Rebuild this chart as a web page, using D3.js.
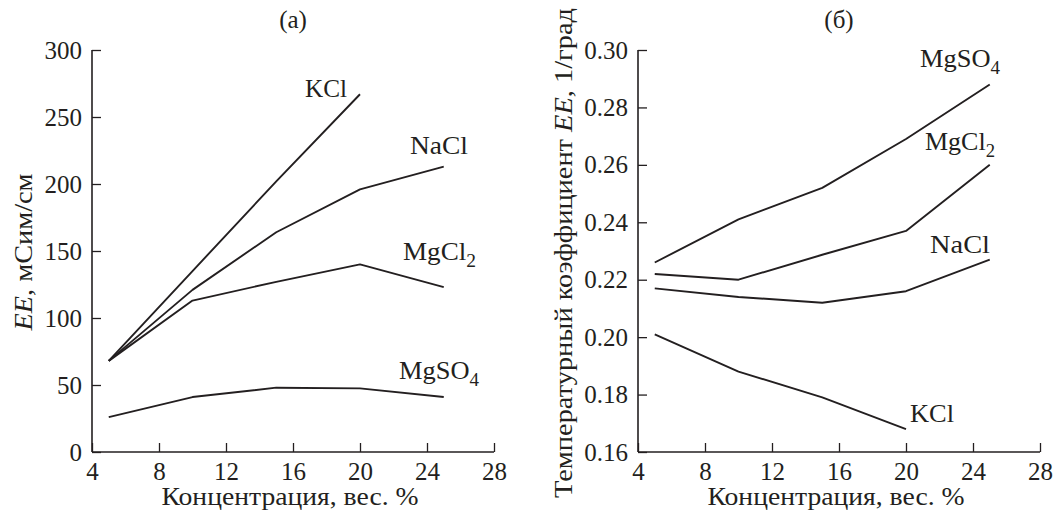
<!DOCTYPE html>
<html>
<head>
<meta charset="utf-8">
<script src="https://cdn.jsdelivr.net/npm/d3@7"></script>
<style>
  body { margin: 0; background: #fff; }
  svg text { font-family: "Liberation Serif", "Times New Roman", serif; fill: #231f20; }
</style>
</head>
<body>
<div id="chart"></div>
<script>
(function() {

  // concentration, wt. %
  let concentration = [5, 10, 15, 20, 25];
  let xTicks = [4, 8, 12, 16, 20, 24, 28];

  // panel (a): electrical conductivity, mS/cm
  let condKCl = [68, 135, 202, 267];
  let condNaCl = [68, 121, 164, 196, 213];
  let condMgCl2 = [68, 113, 127, 140, 123];
  let condMgSO4 = [26, 41, 48, 47.5, 41];
  let condTicks = [0, 50, 100, 150, 200, 250, 300];

  // panel (б): temperature coefficient, 1/deg
  let coefMgSO4 = [0.226, 0.241, 0.252, 0.269, 0.288];
  let coefMgCl2 = [0.222, 0.220, 0.2287, 0.237, 0.260];
  let coefNaCl = [0.217, 0.214, 0.212, 0.216, 0.227];
  let coefKCl = [0.201, 0.188, 0.179, 0.168];
  let coefTicks = [0.16, 0.18, 0.20, 0.22, 0.24, 0.26, 0.28, 0.30];

  let W = 1056, H = 514;
  let serif = '"Liberation Serif", "Times New Roman", serif';
  let ink = "#231f20";
  let svg = d3.select("#chart").append("svg")
      .attr("width", W)
      .attr("height", H);

  function drawPanel (opts) {
    let g = svg.append("g")
        .attr("transform", "translate(" + opts.left + "," + opts.top + ")");

    let x = d3.scaleLinear().domain([4, 28]).range([0, opts.width]);
    let y = d3.scaleLinear().domain(opts.yDomain).range([opts.height, 0]);

    // axes, ticks pointing inward
    let xAxis = g.append("g")
        .attr("transform", "translate(0," + opts.height + ")")
        .call(d3.axisBottom(x).tickValues(xTicks).tickSize(-9));
    let yAxis = g.append("g")
        .call(d3.axisLeft(y).tickValues(opts.yTicks).tickSize(-9)
          .tickFormat(opts.yFormat));

    [xAxis, yAxis].forEach(function(a) {
      a.attr("font-family", null).attr("font-size", null);
      a.select(".domain").attr("stroke", ink).attr("stroke-width", 1.6);
      a.selectAll(".tick line").attr("stroke", ink).attr("stroke-width", 1.3);
      a.selectAll(".tick text")
        .style("font-family", serif)
        .style("font-size", "25px")
        .attr("fill", ink);
    });
    xAxis.selectAll(".tick text").attr("dy", null).attr("y", 28);
    yAxis.selectAll(".tick text").attr("x", -10);
    yAxis.select(".domain").attr("d", "M0," + opts.height + "V0");
    xAxis.select(".domain").attr("d", "M0,0H" + opts.width);

    let line = d3.line()
        .x(function(d) { return x(d.c); })
        .y(function(d) { return y(d.v); });

    opts.series.forEach(function(s) {
      let pts = s.values.map(function(v, i) { return { c: concentration[i], v: v }; });
      g.append("path")
        .datum(pts)
        .attr("d", line)
        .attr("fill", "none")
        .attr("stroke", ink)
        .attr("stroke-width", 1.9)
        .attr("stroke-linejoin", "round");

      let t = g.append("text")
        .attr("x", s.lx)
        .attr("y", s.ly)
        .attr("text-anchor", "end")
        .attr("textLength", s.len)
        .attr("lengthAdjust", "spacingAndGlyphs")
        .style("font-size", "25px");
      t.append("tspan").text(s.name);
      if (s.sub) {
        t.append("tspan").attr("dy", 7).style("font-size", "18px").text(s.sub);
      }
    });

    // panel letter
    g.append("text")
      .attr("x", opts.letterX)
      .attr("y", -22)
      .attr("text-anchor", "middle")
      .style("font-size", "25px")
      .text(opts.letter);

    // x title
    g.append("text")
      .attr("x", opts.width / 2 - 3)
      .attr("y", opts.height + 53)
      .attr("text-anchor", "middle")
      .attr("textLength", 257)
      .attr("lengthAdjust", "spacingAndGlyphs")
      .style("font-size", "25px")
      .text("Концентрация, вес. %");

    // y title
    let yt = g.append("text")
      .attr("transform", "translate(" + opts.yTitleX + "," + opts.yTitleY + ") rotate(-90)")
      .attr("text-anchor", "middle")
      .attr("textLength", opts.yTitleLen)
      .attr("lengthAdjust", "spacingAndGlyphs")
      .style("font-size", "25px");
    opts.yTitle.forEach(function(p) {
      let ts = yt.append("tspan").text(p.t);
      if (p.i) ts.style("font-style", "italic");
    });
  }

  drawPanel({
    left: 92, top: 50, width: 402, height: 402,
    yDomain: [0, 300], yTicks: condTicks,
    yFormat: d3.format("d"),
    letter: "(a)", letterX: 201,
    yTitleX: -60, yTitleY: 202, yTitleLen: 157,
    yTitle: [{ t: "EE", i: true }, { t: ", мСим/см" }],
    series: [
      { name: "KCl", values: condKCl, lx: 255, ly: 47, len: 42 },
      { name: "NaCl", values: condNaCl, lx: 376, ly: 104, len: 58 },
      { name: "MgCl", sub: "2", values: condMgCl2, lx: 384, ly: 210, len: 73 },
      { name: "MgSO", sub: "4", values: condMgSO4, lx: 387, ly: 329, len: 80 }
    ]
  });

  drawPanel({
    left: 638, top: 50, width: 402, height: 402,
    yDomain: [0.16, 0.30], yTicks: coefTicks,
    yFormat: d3.format(".2f"),
    letter: "(б)", letterX: 201,
    yTitleX: -66, yTitleY: 203, yTitleLen: 490,
    yTitle: [{ t: "Температурный коэффициент " }, { t: "EE", i: true }, { t: ", 1/град" }],
    series: [
      { name: "MgSO", sub: "4", values: coefMgSO4, lx: 362, ly: 17, len: 80 },
      { name: "MgCl", sub: "2", values: coefMgCl2, lx: 357, ly: 100, len: 70 },
      { name: "NaCl", values: coefNaCl, lx: 352, ly: 203, len: 60 },
      { name: "KCl", values: coefKCl, lx: 316, ly: 372, len: 44 }
    ]
  });

})();
</script>
</body>
</html>
